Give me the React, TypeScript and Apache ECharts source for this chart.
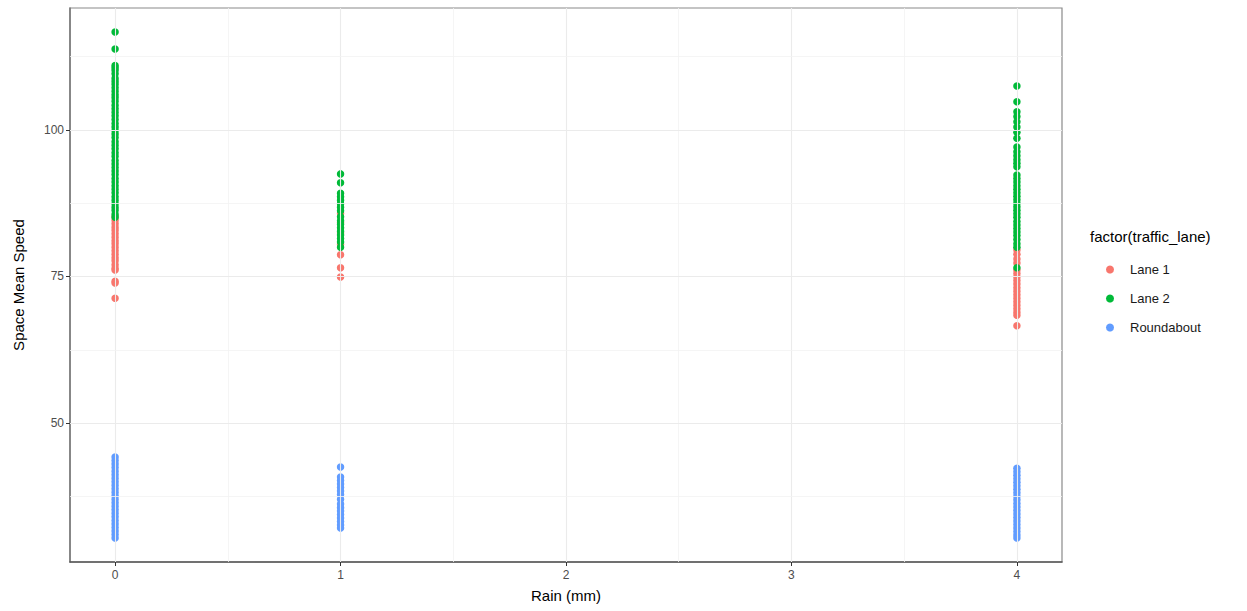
import React, { useEffect, useRef } from "react";
import * as echarts from "echarts";

const rainLevels = [0, 1, 4];
const xTicks = [0, 1, 2, 3, 4];
const yTicks = [50, 75, 100];
const xMinorGrid = [0.5, 1.5, 2.5, 3.5];
const yMinorGrid = [37.5, 62.5, 87.5, 112.5];

const lane1Rain0 = [85.2, 84.6, 84.0, 83.4, 82.9, 82.3, 81.7, 81.1, 80.6, 80.0, 79.4, 78.8, 78.2, 77.7, 77.0, 76.4, 76.1, 74.2, 73.9, 71.3];
const lane1Rain1 = [85.8, 84.2, 82.4, 80.5, 78.7, 76.5, 74.9];
const lane1Rain4 = [79.5, 78.8, 78.0, 77.3, 76.1, 75.5, 74.9, 74.3, 73.7, 73.1, 72.5, 71.9, 71.3, 70.7, 70.1, 69.5, 68.9, 68.4, 66.6];

const lane2Rain0 = [116.7, 113.8, 111.0, 110.6, 110.2, 109.6, 108.8, 108.3, 107.8, 107.2, 106.6, 106.0, 105.5, 104.9, 104.2, 103.6, 103.0, 102.4, 101.8, 101.1, 100.5, 99.9, 99.3, 98.7, 98.0, 97.4, 96.8, 96.1, 95.5, 94.8, 94.2, 93.6, 93.0, 92.4, 91.7, 91.1, 90.5, 89.9, 89.3, 88.6, 88.0, 87.4, 86.8, 86.3, 85.6, 85.1];
const lane2Rain1 = [92.5, 91.0, 89.2, 88.6, 88.0, 87.4, 86.8, 86.2, 85.2, 84.5, 83.9, 83.3, 82.7, 82.1, 81.5, 80.9, 80.0];
const lane2Rain4 = [107.5, 104.8, 103.1, 102.3, 101.4, 100.5, 99.6, 98.6, 97.1, 96.3, 95.6, 94.9, 94.3, 93.7, 92.3, 91.7, 91.1, 90.5, 89.9, 89.3, 88.7, 88.1, 87.5, 86.9, 86.3, 85.7, 85.1, 84.4, 83.8, 83.2, 82.6, 82.0, 81.3, 80.6, 80.0, 76.5];

const roundRain0 = [44.2, 43.6, 43.0, 42.4, 41.8, 41.2, 40.6, 40.0, 39.4, 38.8, 38.2, 37.6, 37.0, 36.4, 35.8, 35.2, 34.6, 34.0, 33.4, 32.8, 32.2, 31.6, 31.0, 30.4];
const roundRain1 = [42.5, 40.8, 40.2, 39.6, 39.0, 38.4, 37.8, 37.0, 36.2, 35.6, 35.0, 34.4, 33.8, 33.2, 32.6, 32.1];
const roundRain4 = [42.3, 41.7, 41.1, 40.5, 39.9, 39.3, 38.7, 38.1, 37.5, 36.9, 36.3, 35.7, 35.1, 34.5, 33.9, 33.3, 32.7, 32.1, 31.5, 30.9, 30.4];

const seriesNames = ["Lane 1", "Lane 2", "Roundabout"];
const seriesColors = ["#F8766D", "#00BA38", "#619CFF"];

function toPoints(groups: number[][]) {
  const out: number[][] = [];
  groups.forEach((vals, i) => vals.forEach((v) => out.push([rainLevels[i], v])));
  return out;
}

export default function App() {
  const ref = useRef<HTMLDivElement>(null);
  useEffect(() => {
    if (!ref.current) return;
    const chart = echarts.init(ref.current, undefined, { renderer: "svg" });
    const seriesData = [
      toPoints([lane1Rain0, lane1Rain1, lane1Rain4]),
      toPoints([lane2Rain0, lane2Rain1, lane2Rain4]),
      toPoints([roundRain0, roundRain1, roundRain4]),
    ];
    const gridLines = [
      ...xTicks.map((x) => ({ xAxis: x, lineStyle: { color: "#EBEBEB", width: 1.1, type: "solid" } })),
      ...xMinorGrid.map((x) => ({ xAxis: x, lineStyle: { color: "#F2F2F2", width: 0.8, type: "solid" } })),
      ...yTicks.map((y) => ({ yAxis: y, lineStyle: { color: "#EBEBEB", width: 1.1, type: "solid" } })),
      ...yMinorGrid.map((y) => ({ yAxis: y, lineStyle: { color: "#F2F2F2", width: 0.8, type: "solid" } })),
    ];
    chart.setOption({
      animation: false,
      backgroundColor: "#ffffff",
      textStyle: { fontFamily: "Liberation Sans, Arial, sans-serif" },
      grid: { left: 70, top: 8, right: 185, bottom: 49, show: true, borderColor: "#8a8a8a", borderWidth: 1.2, backgroundColor: "#ffffff" },
      xAxis: {
        type: "value",
        min: -0.2,
        max: 4.2,
        name: "Rain (mm)",
        nameLocation: "middle",
        nameGap: 26,
        nameTextStyle: { fontSize: 15, color: "#000" },
        axisLine: { show: true, onZero: false, lineStyle: { color: "#555", width: 1.5 } },
        axisTick: { show: true, customValues: xTicks, length: 4, lineStyle: { color: "#333" } },
        axisLabel: { customValues: xTicks, fontSize: 12, color: "#4D4D4D", margin: 7 },
        splitLine: { show: false },
      },
      yAxis: {
        type: "value",
        min: 26.3,
        max: 120.8,
        name: "Space Mean Speed",
        nameLocation: "middle",
        nameGap: 44,
        nameTextStyle: { fontSize: 15, color: "#000" },
        axisLine: { show: true, onZero: false, lineStyle: { color: "#777", width: 1.5 } },
        axisTick: { show: true, customValues: yTicks, length: 4, lineStyle: { color: "#333" } },
        axisLabel: { customValues: yTicks, fontSize: 12, color: "#4D4D4D", margin: 6 },
        splitLine: { show: false },
      },
      legend: {
        orient: "vertical",
        left: 1101,
        top: 258,
        itemWidth: 8,
        itemHeight: 8,
        itemGap: 16,
        icon: "circle",
        data: seriesNames,
        textStyle: { fontSize: 13, color: "#1a1a1a", padding: [0, 0, 0, 11] },
      },
      graphic: [
        { type: "text", left: 1090, top: 229, style: { text: "factor(traffic_lane)", fontSize: 15, fill: "#000", fontFamily: "Liberation Sans, Arial, sans-serif" } },
      ],
      series: [
        {
          type: "scatter",
          name: "grid",
          data: [],
          z: 0,
          silent: true,
          markLine: { silent: true, symbol: ["none", "none"], label: { show: false }, data: gridLines, animation: false },
        },
        ...seriesNames.map((n, i) => ({
          type: "scatter",
          name: n,
          data: seriesData[i],
          symbolSize: 7.5,
          z: 2 + (i === 1 ? 1 : 0),
          itemStyle: { color: seriesColors[i], opacity: 1 },
        })),
      ],
    });
    return () => chart.dispose();
  }, []);
  return <div ref={ref} style={{ position: "fixed", left: 0, top: 0, width: 1247, height: 611 }} />;
}
